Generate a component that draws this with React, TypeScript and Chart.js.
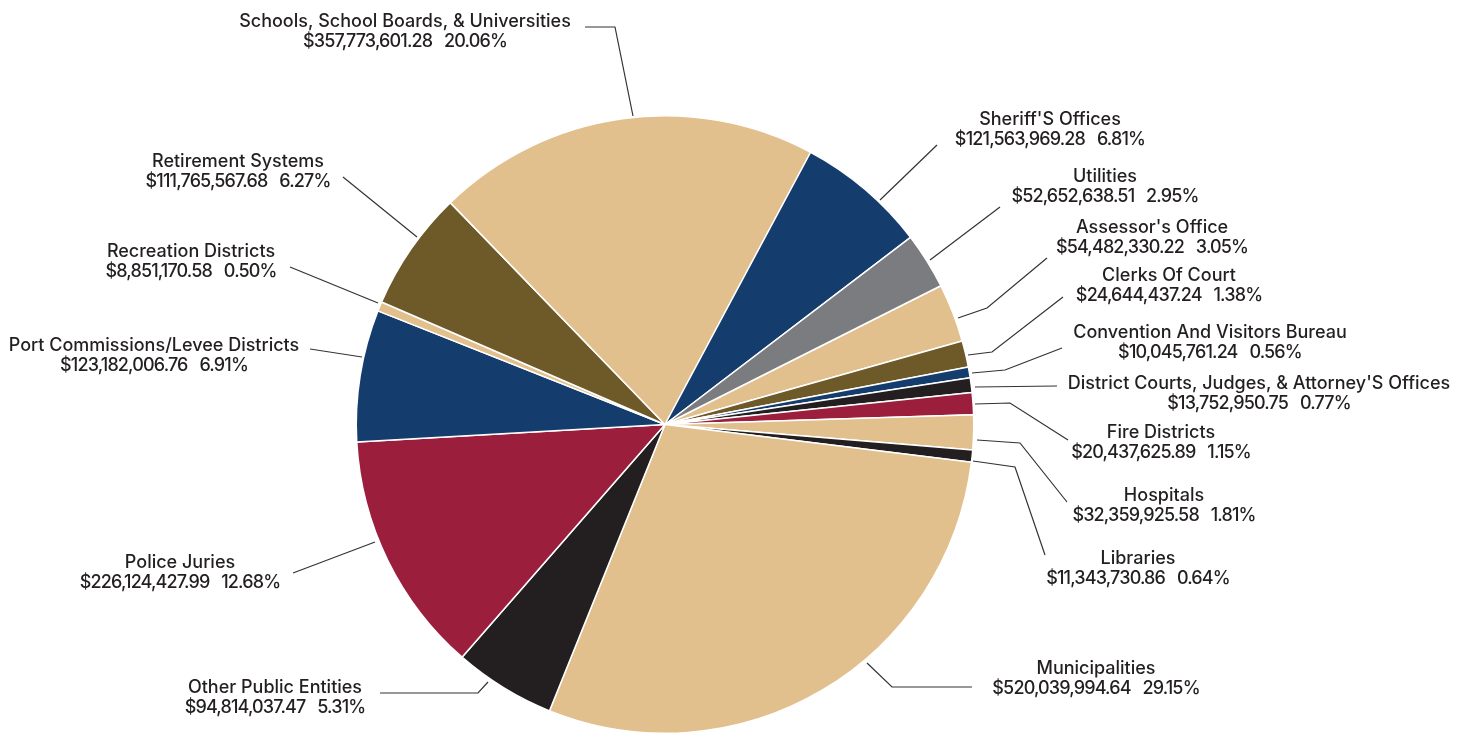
import React, { useEffect, useRef } from "react";
import { Chart, registerables } from "chart.js";

Chart.register(...registerables);

const CATEGORIES = [
  "Assessor's Office",
  "Clerks Of Court",
  "Convention And Visitors Bureau",
  "District Courts, Judges, & Attorney'S Offices",
  "Fire Districts",
  "Hospitals",
  "Libraries",
  "Municipalities",
  "Other Public Entities",
  "Police Juries",
  "Port Commissions/Levee Districts",
  "Recreation Districts",
  "Retirement Systems",
  "Schools, School Boards, & Universities",
  "Sheriff'S Offices",
  "Utilities",
];

const VALUES = [
  54482330.22, 24644437.24, 10045761.24, 13752950.75, 20437625.89, 32359925.58,
  11343730.86, 520039994.64, 94814037.47, 226124427.99, 123182006.76, 8851170.58,
  111765567.68, 357773601.28, 121563969.28, 52652638.51,
];

const PERCENTS = [
  "3.05", "1.38", "0.56", "0.77", "1.15", "1.81", "0.64", "29.15", "5.31", "12.68",
  "6.91", "0.50", "6.27", "20.06", "6.81", "2.95",
];

const TAN = "#E2C08D";
const NAVY = "#143D6E";
const GREY = "#7B7C7F";
const BROWN = "#6E5A28";
const BLACK = "#231F20";
const RED = "#9B1F3D";

const COLORS = [
  TAN, BROWN, NAVY, BLACK, RED, TAN, BLACK, TAN, BLACK, RED, NAVY, TAN, BROWN, TAN, NAVY, GREY,
];

// label layout (text centre x, first-line baseline y, connector polyline)
const LABEL_LAYOUT: { cx: number; y: number; line: number[][] }[] = [
  { cx: 1152, y: 233, line: [[958, 318], [987, 308], [1047, 258]] },
  { cx: 1169, y: 281, line: [[968, 355], [992, 352], [1063, 297]] },
  { cx: 1210, y: 338, line: [[972, 373], [1005, 370], [1062, 348]] },
  { cx: 1259, y: 389, line: [[975, 387], [1057, 386]] },
  { cx: 1161, y: 438, line: [[975, 404], [1010, 403], [1068, 440]] },
  { cx: 1164, y: 501, line: [[977, 440], [1020, 443], [1067, 502]] },
  { cx: 1138, y: 564, line: [[973, 461], [1015, 467], [1045, 555]] },
  { cx: 1096, y: 674, line: [[867, 663], [892, 687], [972, 687]] },
  { cx: 275, y: 693, line: [[488, 682], [478, 693], [380, 693]] },
  { cx: 180, y: 568, line: [[375, 542], [293, 573]] },
  { cx: 154, y: 351, line: [[362, 357], [310, 349]] },
  { cx: 191, y: 257, line: [[378, 303], [290, 267]] },
  { cx: 238, y: 167, line: [[417, 237], [343, 177]] },
  { cx: 405, y: 27, line: [[633, 116], [615, 27], [585, 27]] },
  { cx: 1050, y: 125, line: [[880, 200], [937, 145]] },
  { cx: 1105, y: 182, line: [[930, 260], [1000, 207]] },
];

const FONT = "500 18px Inter";
const LINE_GAP = 20;

const fmtMoney = (v: number) =>
  "$" + v.toLocaleString("en-US", { minimumFractionDigits: 2, maximumFractionDigits: 2 });

const labelPlugin = {
  id: "outsideLabels",
  afterDraw(chart: any) {
    const ctx = chart.ctx as any;
    ctx.save();
    ctx.strokeStyle = "#333333";
    ctx.lineWidth = 1.2;
    LABEL_LAYOUT.forEach((l) => {
      ctx.beginPath();
      l.line.forEach((p, j) => (j === 0 ? ctx.moveTo(p[0], p[1]) : ctx.lineTo(p[0], p[1])));
      ctx.stroke();
    });
    ctx.fillStyle = "#231F20";
    ctx.font = FONT;
    ctx.textAlign = "center";
    ctx.textBaseline = "alphabetic";
    LABEL_LAYOUT.forEach((l, i) => {
      ctx.letterSpacing = "0px";
      ctx.fillText(CATEGORIES[i], l.cx, l.y);
      ctx.letterSpacing = "-0.85px";
      ctx.fillText(`${fmtMoney(VALUES[i])}   ${PERCENTS[i]}%`, l.cx, l.y + LINE_GAP);
    });
    ctx.restore();
  },
};

export default function App() {
  const ref = useRef<HTMLCanvasElement | null>(null);
  useEffect(() => {
    document.body.style.margin = "0";
    if (!ref.current) return;
    const chart = new Chart(ref.current, {
      type: "pie",
      data: {
        labels: CATEGORIES,
        datasets: [
          {
            data: VALUES,
            backgroundColor: COLORS,
            borderColor: "#FFFFFF",
            borderWidth: 1.5,
          },
        ],
      },
      options: {
        animation: false,
        responsive: false,
        rotation: 63.3,
        layout: { padding: { left: 355, right: 494, top: 115, bottom: 0 } },
        plugins: {
          legend: { display: false },
          tooltip: { enabled: false },
        },
      },
      plugins: [labelPlugin],
    });
    return () => chart.destroy();
  }, []);
  return (
    <div style={{ width: 1469, height: 734, background: "#fff" }}>
      <canvas ref={ref} width={1469} height={734} style={{ display: "block" }} />
    </div>
  );
}
